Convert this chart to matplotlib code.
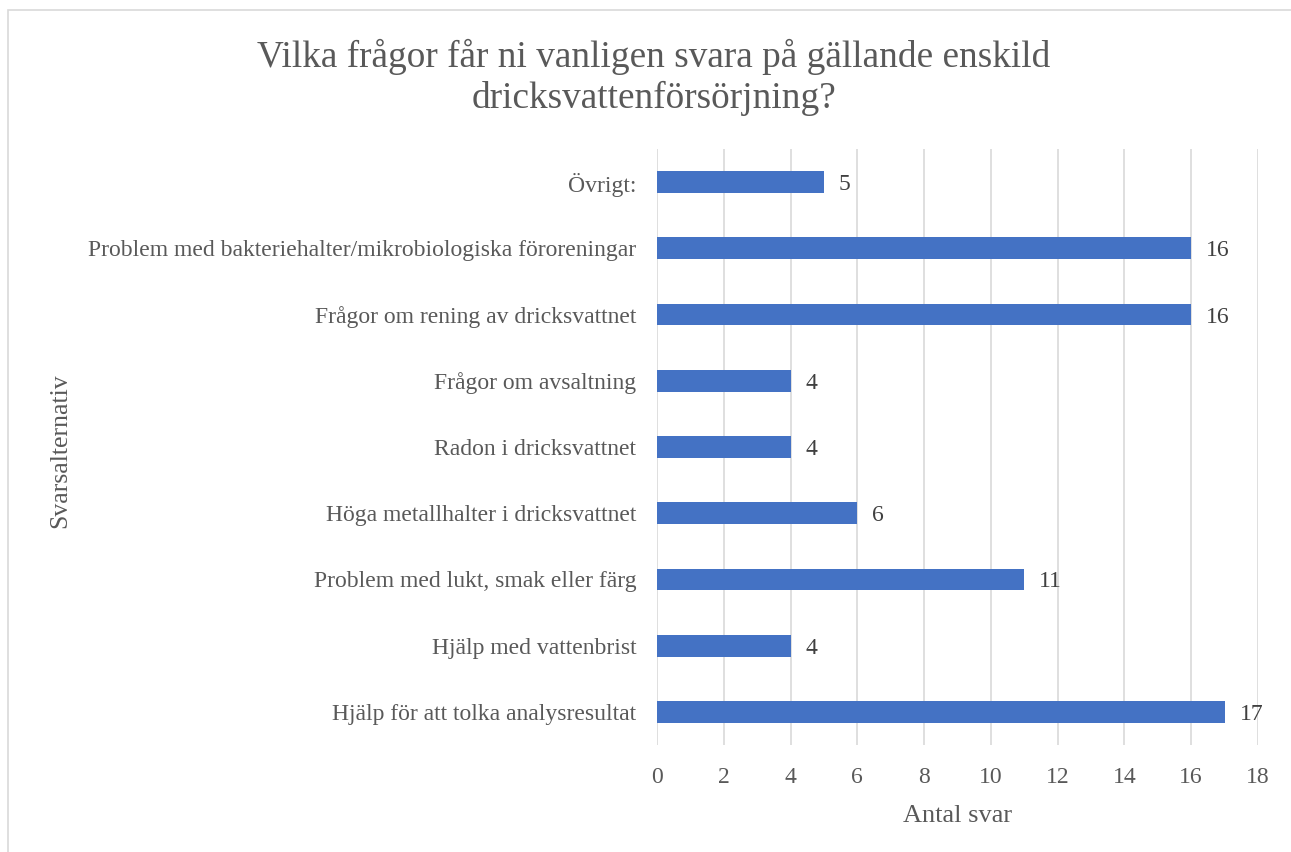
import matplotlib
matplotlib.use("Agg")
import matplotlib.pyplot as plt
from matplotlib.patches import Rectangle

# Svar per alternativ (nedifrån och upp)
kategorier = [
    "Hjälp för att tolka analysresultat",
    "Hjälp med vattenbrist",
    "Problem med lukt, smak eller färg",
    "Höga metallhalter i dricksvattnet",
    "Radon i dricksvattnet",
    "Frågor om avsaltning",
    "Frågor om rening av dricksvattnet",
    "Problem med bakteriehalter/mikrobiologiska föroreningar",
    "Övrigt:",
]
antal = [17, 4, 11, 6, 4, 4, 16, 16, 5]
xticks = [0, 2, 4, 6, 8, 10, 12, 14, 16, 18]

GRA = "#595959"
BLA = "#4472C4"

plt.rcParams["font.family"] = ["Liberation Serif", "DejaVu Serif"]

fig = plt.figure(figsize=(12.91, 8.52), dpi=100)
ax = fig.add_axes([0.5089, 0.1256, 0.4655, 0.6995])

pos = range(len(kategorier))
ax.barh(pos, antal, height=0.33, color=BLA, zorder=3)
for y, v in zip(pos, antal):
    ax.text(v + 0.45, y, str(v), va="center_baseline", ha="left", fontsize=17, color="#404040")

ax.set_xlim(0, 18)
ax.set_ylim(-0.5, len(kategorier) - 0.5)
ax.set_xticks(xticks)
ax.set_yticks(list(pos))
ax.set_yticklabels(kategorier)
ax.tick_params(axis="both", length=0, labelsize=17, labelcolor=GRA)
ax.tick_params(axis="x", pad=16)
ax.tick_params(axis="y", pad=15)
ax.grid(axis="x", color="#d9d9d9", linewidth=1.2, zorder=0)
for s in ax.spines.values():
    s.set_visible(False)

ax.set_xlabel("Antal svar", fontsize=19, color=GRA, labelpad=12)
fig.text(0.047, 0.471, "Svarsalternativ", rotation=90, ha="center", va="center",
         fontsize=18.5, color=GRA)

fig.text(0.5066, 0.909, "Vilka frågor får ni vanligen svara på gällande enskild\ndricksvattenförsörjning?",
         ha="center", va="center", fontsize=26.8, color=GRA, linespacing=1.22)

# ram runt diagramytan
fig.patches.append(Rectangle((8 / 1291, -0.05), 1.2, 0.9883 + 0.05, transform=fig.transFigure,
                             fill=False, edgecolor="#d9d9d9", linewidth=1.2))

fig.savefig("out.png", dpi=100)
